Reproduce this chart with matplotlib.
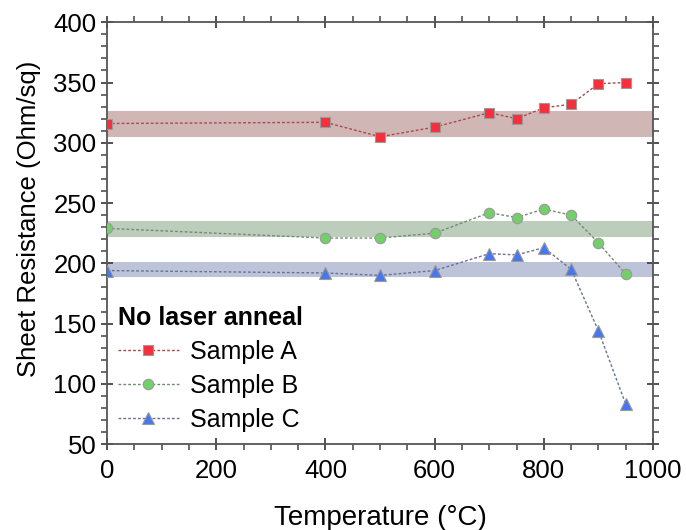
import matplotlib
matplotlib.use('Agg')
import matplotlib.pyplot as plt
from matplotlib.ticker import MultipleLocator

plt.rcParams['font.family'] = ['Liberation Sans', 'DejaVu Sans']

# annealing temperature [C]
temps = [0, 400, 500, 600, 700, 750, 800, 850, 900, 950]
# sheet resistance [Ohm/sq]
sample_a = [316, 317, 305, 313, 325, 320, 329, 332, 349, 350]
sample_b = [229, 221, 221, 225, 242, 238, 245, 240, 217, 191]
sample_c = [194, 192, 190, 194, 208, 207, 213, 195, 144, 83]
# reference bands (no laser anneal spread)
band_a = [305, 326]
band_b = [222, 235]
band_c = [189, 201]

labels = ['Sample A', 'Sample B', 'Sample C']
markers = ['s', 'o', '^']
face_colors = ['#f5303c', '#72cf6a', '#4677ee']
line_colors = ['#a84848', '#6f8c6f', '#667290']
band_colors = ['#c9aaaa', '#b1c5b1', '#b2bad4']

fig = plt.figure(figsize=(6.86, 5.30), dpi=100)
ax = fig.add_axes([0.156, 0.162, 0.796, 0.796])

for band, bc in zip([band_a, band_b, band_c], band_colors):
    ax.axhspan(band[0], band[1], color=bc, alpha=0.85, lw=0, zorder=1)

for ys, lab, mk, fc, lc in zip([sample_a, sample_b, sample_c], labels, markers, face_colors, line_colors):
    ax.plot(temps, ys, linestyle=(0, (2, 1.5)), linewidth=1.0, color=lc,
            marker=mk, markersize=8.5 if mk == '^' else 7.5, markerfacecolor=fc,
            markeredgecolor='#9a9a9a', markeredgewidth=0.8, label=lab, zorder=3)

ax.set_xlim(0, 1000)
ax.set_ylim(50, 400)
ax.xaxis.set_major_locator(MultipleLocator(200))
ax.xaxis.set_minor_locator(MultipleLocator(50))
ax.yaxis.set_major_locator(MultipleLocator(50))
ax.yaxis.set_minor_locator(MultipleLocator(10))
ax.tick_params(which='major', direction='inout', length=9, width=1.3, color='#444444',
               labelsize=18.5, top=True, right=True, labeltop=False, labelright=False, pad=3)
ax.tick_params(axis='x', which='major', pad=6)
ax.tick_params(which='minor', direction='out', length=4, width=1.1, color='#444444',
               top=True, right=True)
for sp in ax.spines.values():
    sp.set_color('#555555')
    sp.set_linewidth(1.3)

ax.set_xlabel('Temperature (°C)', fontsize=20, labelpad=16)
ax.set_ylabel('Sheet Resistance (Ohm/sq)', fontsize=18.5)
ax.yaxis.set_label_coords(-0.12, 0.535)

leg = ax.legend(loc='lower left', bbox_to_anchor=(-0.022, -0.025), frameon=False,
                fontsize=18, title='No laser anneal', alignment='left',
                title_fontproperties={'weight': 'bold', 'size': 18},
                handlelength=2.45, handletextpad=0.45, labelspacing=0.4)

fig.savefig('out.png', dpi=100)
